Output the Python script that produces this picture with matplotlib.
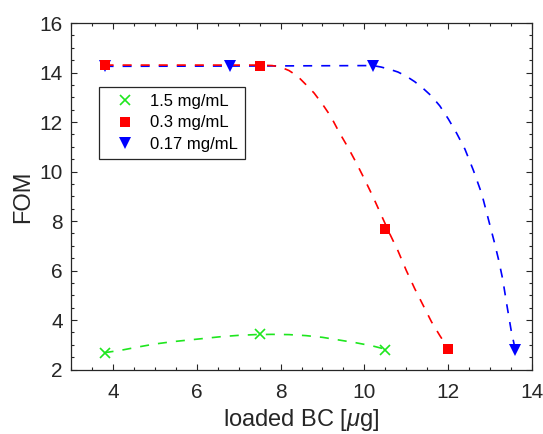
import matplotlib
matplotlib.use("Agg")
import matplotlib.pyplot as plt

plt.rcParams['font.family'] = ['Liberation Sans', 'DejaVu Sans']
plt.rcParams['mathtext.fontset'] = 'custom'
plt.rcParams['mathtext.it'] = 'Liberation Sans:italic'
plt.rcParams['mathtext.rm'] = 'Liberation Sans'
plt.rcParams['lines.scale_dashes'] = False

# measured points
x_15 = [3.8, 7.5, 10.5]
y_15 = [2.68, 3.42, 2.80]
x_03 = [3.8, 7.5, 10.5, 12.0]
y_03 = [14.30, 14.28, 7.67, 2.82]
x_017 = [3.8, 6.8, 10.2, 13.6]
y_017 = [14.25, 14.25, 14.27, 2.78]

# fitted curves
fit_x_15 = [3.8, 4.2, 4.6, 5.0, 5.4, 5.8, 6.2, 6.6, 7.0, 7.4, 7.8, 8.2, 8.6, 9.0, 9.4, 9.8, 10.2, 10.5]
fit_y_15 = [2.68, 2.78, 2.91, 3.03, 3.12, 3.19, 3.26, 3.33, 3.38, 3.41, 3.42, 3.41, 3.37, 3.30, 3.19, 3.08, 2.95, 2.82]

fit_x_03 = [3.8, 7.5, 7.8, 8.0, 8.2, 8.4, 8.6, 8.8, 9.0, 9.2, 9.4, 9.6, 9.8, 10.0,
            10.2, 10.4, 10.6, 10.8, 11.0, 11.2, 11.4, 11.6, 11.8, 12.0]
fit_y_03 = [14.30, 14.30, 14.28, 14.22, 14.08, 13.86, 13.52, 13.17, 12.72, 12.22, 11.58, 11.00, 10.37, 9.70,
            9.00, 8.25, 7.50, 6.80, 6.00, 5.27, 4.60, 3.93, 3.37, 2.85]

fit_x_017 = [3.8, 6.8, 10.2, 10.4, 10.6, 10.8, 11.0, 11.2, 11.4, 11.6, 11.8, 12.0, 12.2,
             12.4, 12.6, 12.8, 12.9, 13.0, 13.1, 13.2, 13.3, 13.4, 13.5, 13.6]
fit_y_017 = [14.25, 14.26, 14.28, 14.22, 14.13, 14.02, 13.85, 13.63, 13.36, 13.05, 12.65, 12.13, 11.55,
             10.90, 10.05, 9.10, 8.45, 7.80, 7.15, 6.45, 5.65, 4.60, 3.60, 2.80]

labels = ['1.5 mg/mL', '0.3 mg/mL', '0.17 mg/mL']
c_green = '#1ee61e'
c_red = '#ff0000'
c_blue = '#0000ff'
dash = (6.5, 6.5)
axc = '#262626'

fig = plt.figure(figsize=(5.43, 4.34), dpi=100)
ax = fig.add_axes([0.1308, 0.1486, 0.849, 0.7984])

ax.plot(fit_x_15, fit_y_15, color=c_green, lw=1.2, dashes=dash)
ax.plot(fit_x_017, fit_y_017, color=c_blue, lw=1.2, dashes=dash)
ax.plot(fit_x_03, fit_y_03, color=c_red, lw=1.2, dashes=dash)

ax.plot(x_15, y_15, 'x', color=c_green, ms=7.5, mew=1.2, label=labels[0], zorder=3)
ax.plot(x_017, y_017, 'v', color=c_blue, ms=8, mew=0, label=labels[2], zorder=3)
ax.plot(x_03, y_03, 's', color=c_red, ms=7, mew=0, label=labels[1], zorder=4)

ax.set_xlim(3, 14)
ax.set_ylim(2, 16)
ax.set_xticks([4, 6, 8, 10, 12, 14])
ax.set_yticks([2, 4, 6, 8, 10, 12, 14, 16])
ax.set_xticks([x / 2 for x in range(6, 29)], minor=True)
ax.set_yticks([y / 2 for y in range(4, 33)], minor=True)
ax.tick_params(which='both', direction='in', top=True, right=True, colors=axc,
               labelsize=15, width=0.8)
ax.tick_params(which='major', length=4)
ax.tick_params(which='minor', length=2)
ax.tick_params(axis='x', labelcolor=axc, pad=10)
ax.tick_params(axis='y', labelcolor=axc, pad=6)
for s in ax.spines.values():
    s.set_color(axc)
    s.set_linewidth(0.9)

ax.set_xlabel(r'loaded BC [$\mu$g]', fontsize=17, color=axc, labelpad=3.5)
ax.set_ylabel('FOM', fontsize=17, color=axc, labelpad=4)

h, l = ax.get_legend_handles_labels()
order = [l.index(t) for t in labels]
leg = ax.legend([h[i] for i in order], [l[i] for i in order], loc='upper left',
                bbox_to_anchor=(0.0614, 0.815), borderaxespad=0, fontsize=12,
                frameon=True, fancybox=False, edgecolor=axc, framealpha=1,
                handlelength=2.3, handletextpad=0.35, borderpad=0.4, labelspacing=0.4)
leg.get_frame().set_linewidth(0.9)

fig.savefig('out.png', dpi=100, facecolor='white')
